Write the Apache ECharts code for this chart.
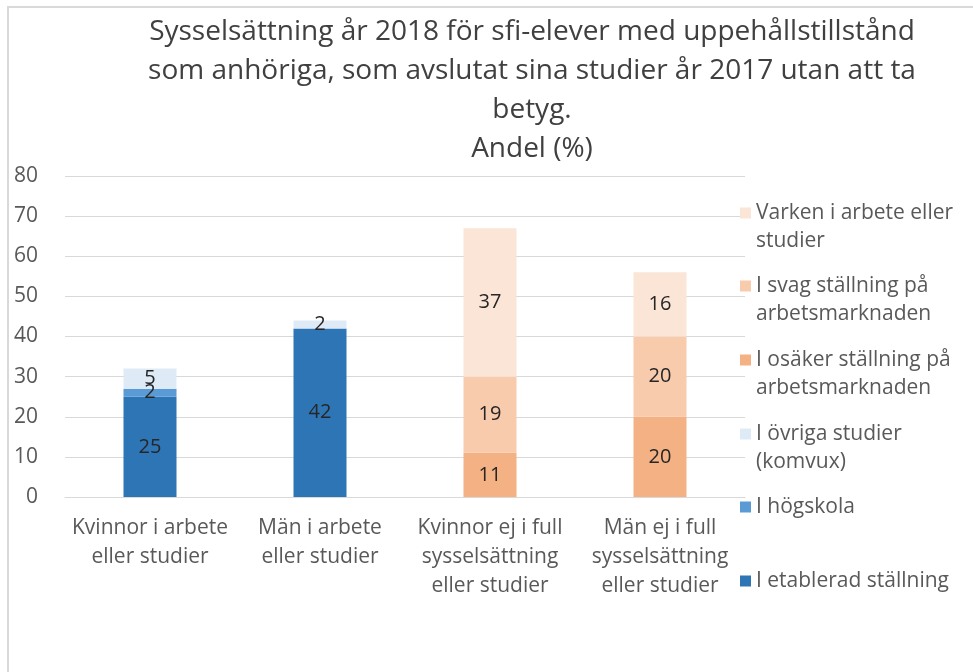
<!DOCTYPE html>
<html>
<head>
<meta charset="utf-8">
<script src="https://cdn.jsdelivr.net/npm/echarts@6/dist/echarts.min.js"></script>
<style>
  html, body { margin: 0; padding: 0; background: #fff; }
  #main { width: 973px; height: 672px; }
</style>
</head>
<body>
<div id="main"></div>
<script>
// kategorier
var categories = [
  "Kvinnor i arbete\neller studier",
  "Män i arbete\neller studier",
  "Kvinnor ej i full\nsysselsättning\neller studier",
  "Män ej i full\nsysselsättning\neller studier"
];
var yTicks = [0, 10, 20, 30, 40, 50, 60, 70, 80];

// serier (nedifrån och upp)
var etablerad = [25, 42, "-", "-"];
var hogskola = [2, "-", "-", "-"];
var ovriga = [5, 2, "-", "-"];
var osaker = ["-", "-", 11, 20];
var svag = ["-", "-", 19, 20];
var varken = ["-", "-", 37, 16];

var seriesNames = [
  "I etablerad ställning",
  "I högskola",
  "I övriga studier\n(komvux)",
  "I osäker ställning på\narbetsmarknaden",
  "I svag ställning på\narbetsmarknaden",
  "Varken i arbete eller\nstudier"
];
var seriesData = [etablerad, hogskola, ovriga, osaker, svag, varken];
var colors = ["#2E75B6", "#5B9BD5", "#DEEBF7", "#F4B183", "#F8CBAD", "#FBE5D6"];

var FONT = "Open Sans";
var LH = 28;

var chart = echarts.init(document.getElementById("main"));

var series = [];
for (var i = 0; i < seriesData.length; i++) {
  series.push({
    name: seriesNames[i],
    type: "bar",
    stack: "total",
    barWidth: 53,
    data: seriesData[i],
    itemStyle: { color: colors[i] },
    label: {
      show: true,
      position: "inside",
      color: "#262626",
      fontFamily: FONT,
      fontSize: 20
    }
  });
}

// legend, en per post (omvänd ordning, uppifrån)
var legendCenters = [581, 507, 434, 360, 286, 213];
var legends = [];
for (var j = 0; j < seriesNames.length; j++) {
  var twoLines = seriesNames[j].indexOf("\n") >= 0;
  legends.push({
    data: [seriesNames[j]],
    orient: "vertical",
    left: 740,
    top: legendCenters[j] - (twoLines ? 1.5 : 0.5) * LH,
    padding: 0,
    icon: "rect",
    itemWidth: 11,
    itemHeight: 11,
    selectedMode: false,
    // tom rad först så att ikonen hamnar vid första textraden
    formatter: function (name) {
      return name.indexOf("\n") >= 0 ? "\n" + name : name;
    },
    textStyle: {
      color: "#595959",
      fontFamily: FONT,
      fontSize: 21,
      lineHeight: LH
    }
  });
}

var option = {
  animation: false,
  backgroundColor: "#fff",
  title: {
    text: "Sysselsättning år 2018 för sfi-elever med uppehållstillstånd\nsom anhöriga, som avslutat sina studier år 2017 utan att ta\nbetyg.\nAndel (%)",
    left: 527,
    top: 8,
    textAlign: "center",
    textStyle: {
      color: "#404040",
      fontFamily: FONT,
      fontSize: 28,
      fontWeight: "normal",
      lineHeight: 39
    }
  },
  legend: legends,
  grid: {
    left: 65,
    right: 228,
    top: 176,
    bottom: 175
  },
  xAxis: {
    type: "category",
    data: categories,
    axisLine: { show: true, lineStyle: { color: "#d9d9d9", width: 1 } },
    axisTick: { show: false },
    axisLabel: {
      color: "#595959",
      fontFamily: FONT,
      fontSize: 21,
      lineHeight: 29,
      margin: 17,
      interval: 0
    }
  },
  yAxis: {
    type: "value",
    min: yTicks[0],
    max: yTicks[yTicks.length - 1],
    interval: 10,
    axisLine: { show: false },
    axisTick: { show: false },
    splitLine: { lineStyle: { color: "#d9d9d9", width: 1 } },
    axisLabel: {
      color: "#595959",
      fontFamily: FONT,
      fontSize: 21,
      margin: 27
    }
  },
  graphic: [
    { type: "line", shape: { x1: 7, y1: 7, x2: 973, y2: 7 }, style: { stroke: "#d9d9d9", lineWidth: 2 } },
    { type: "line", shape: { x1: 8, y1: 7, x2: 8, y2: 672 }, style: { stroke: "#d9d9d9", lineWidth: 2 } }
  ],
  series: series
};
chart.setOption(option);
</script>
</body>
</html>
